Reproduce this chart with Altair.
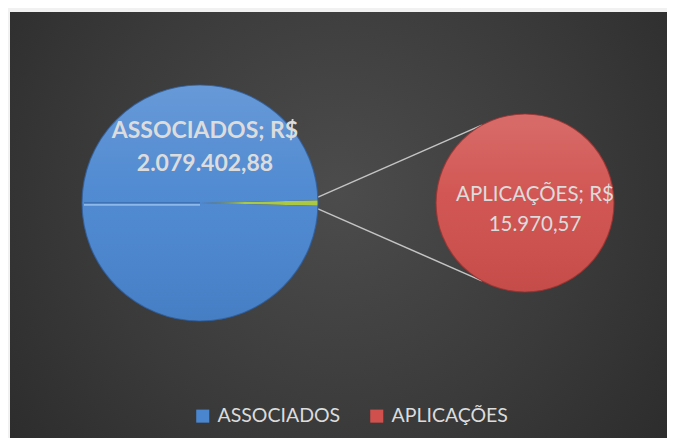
import math
import altair as alt
import pandas as pd

# ---- data ----
categories = ["ASSOCIADOS", "APLICAÇÕES"]
values = [2079402.88, 15970.57]
other_label = "Outros"

# ---- styles / layout ----
cat_colors = ["#4a86d0", "#d0504d"]
other_color = "#a9c73c"
W, H = 659, 430
LCX, LCY, LR = 192, 195, 118
RCX, RCY, RR = 517, 195, 89
FONT = "Lato"
TXT = "#dcdcdc"


def brl(v):
    s = f"{v:,.2f}"
    return s.replace(",", "X").replace(".", ",").replace("X", ".")


total = sum(values)
delta = 2 * math.pi * values[1] / total
theta0 = math.pi / 2 - delta / 2
TWO_PI = 2 * math.pi

left_df = pd.DataFrame({
    "cat": [other_label, categories[0]],
    "val": [values[1], values[0]],
    "ord": [0, 1],
})
right_df = pd.DataFrame({"cat": [categories[1]], "val": [values[1]], "ord": [0]})

color_enc = alt.Color(
    "cat:N",
    scale=alt.Scale(domain=categories + [other_label], range=cat_colors + [other_color]),
    legend=alt.Legend(
        values=categories, title=None, orient="none", direction="horizontal",
        legendX=185, legendY=398, symbolType="square", symbolSize=170,
        symbolStrokeWidth=0, labelFont=FONT, labelFontSize=19.5, labelColor=TXT,
        columnPadding=26, symbolOffset=0, labelOffset=5,
    ),
)

bg = alt.Chart(pd.DataFrame({"a": [0]})).mark_rect(
    color=alt.Gradient(
        gradient="radial",
        stops=[alt.GradientStop(color="#4c4c4c", offset=0),
               alt.GradientStop(color="#3a3a3a", offset=0.5),
               alt.GradientStop(color="#262626", offset=1)],
        x1=0.5, y1=0.45, x2=0.5, y2=0.45, r1=0, r2=0.75,
    )
).encode(x=alt.value(2), x2=alt.value(W), y=alt.value(4), y2=alt.value(H))

left_pie = alt.Chart(left_df).mark_arc(outerRadius=LR).encode(
    theta=alt.Theta("val:Q", stack=True, scale=alt.Scale(range=[theta0, theta0 + TWO_PI])),
    order=alt.Order("ord:Q"),
    color=color_enc,
    x=alt.value(LCX), y=alt.value(LCY),
)
right_pie = alt.Chart(right_df).mark_arc(outerRadius=RR).encode(
    theta=alt.Theta("val:Q", stack=True, scale=alt.Scale(range=[0, TWO_PI])),
    order=alt.Order("ord:Q"),
    color=color_enc,
    x=alt.value(RCX), y=alt.value(RCY),
)

shine = alt.Gradient(
    gradient="linear",
    stops=[alt.GradientStop(color="rgba(255,255,255,0.16)", offset=0),
           alt.GradientStop(color="rgba(255,255,255,0.04)", offset=0.45),
           alt.GradientStop(color="rgba(0,0,0,0.06)", offset=1)],
    x1=0, y1=0, x2=0, y2=1,
)
left_shine = alt.Chart(pd.DataFrame({"a": [0]})).mark_arc(
    outerRadius=LR, theta=0, theta2=TWO_PI, color=shine,
    stroke="#2f5f9e", strokeWidth=1.2, strokeOpacity=0.8,
).encode(x=alt.value(LCX), y=alt.value(LCY))
right_shine = alt.Chart(pd.DataFrame({"a": [0]})).mark_arc(
    outerRadius=RR, theta=0, theta2=TWO_PI, color=shine,
    stroke="#9c3331", strokeWidth=1.2, strokeOpacity=0.8,
).encode(x=alt.value(RCX), y=alt.value(RCY))

# seam across the left half of the first pie (bevel edge of the slices)
seam_df = pd.DataFrame({"x": [LCX - LR + 2], "x2": [LCX], "y": [LCY]})
seam_light = alt.Chart(seam_df).mark_rule(color="#8db8ea", strokeWidth=2.5).encode(
    x=alt.X("x:Q", scale=None, axis=None), x2="x2:Q",
    y=alt.Y("y:Q", scale=None, axis=None), yOffset=alt.value(1.5),
)
seam_dark = alt.Chart(seam_df).mark_rule(color="#2e5d9a", strokeWidth=1).encode(
    x=alt.X("x:Q", scale=None, axis=None), x2="x2:Q",
    y=alt.Y("y:Q", scale=None, axis=None),
)

# connector lines from the small slice to the second pie
a_top, a_bot = math.radians(119), math.radians(-119)
t1, t2 = theta0, theta0 + delta
conn_df = pd.DataFrame({
    "x": [LCX + LR * math.sin(t1), LCX + LR * math.sin(t2)],
    "y": [LCY - LR * math.cos(t1) - 3, LCY - LR * math.cos(t2) + 3],
    "x2": [RCX + RR * math.cos(a_top), RCX + RR * math.cos(a_bot)],
    "y2": [RCY - RR * math.sin(a_top), RCY - RR * math.sin(a_bot)],
})
connectors = alt.Chart(conn_df).mark_rule(color="#c4c4c4", strokeWidth=1.5).encode(
    x=alt.X("x:Q", scale=None, axis=None), y=alt.Y("y:Q", scale=None, axis=None),
    x2="x2:Q", y2="y2:Q",
)

left_lbl = alt.Chart(pd.DataFrame({"t": [f"{categories[0]}; R$\n{brl(values[0])}"]})).mark_text(
    font=FONT, fontSize=23, fontWeight="bold", color=TXT, lineBreak="\n",
    lineHeight=33, align="center", baseline="middle",
).encode(text="t:N", x=alt.value(197), y=alt.value(123))

right_lbl = alt.Chart(pd.DataFrame({"t": [f"{categories[1]}; R$\n{brl(values[1])}"]})).mark_text(
    font=FONT, fontSize=20.5, color=TXT, lineBreak="\n",
    lineHeight=30, align="center", baseline="middle",
).encode(text="t:N", x=alt.value(527), y=alt.value(187))

chart = alt.layer(
    bg, connectors, left_pie, right_pie, left_shine, right_shine,
    seam_light, seam_dark, left_lbl, right_lbl,
).resolve_scale(theta="independent").properties(
    width=W, height=H, padding=0, background="#f1f1f1",
    autosize=alt.AutoSizeParams(type="none"),
).configure_view(stroke=None)

chart.save("out.html", embed_options={"renderer": "svg", "actions": False})
